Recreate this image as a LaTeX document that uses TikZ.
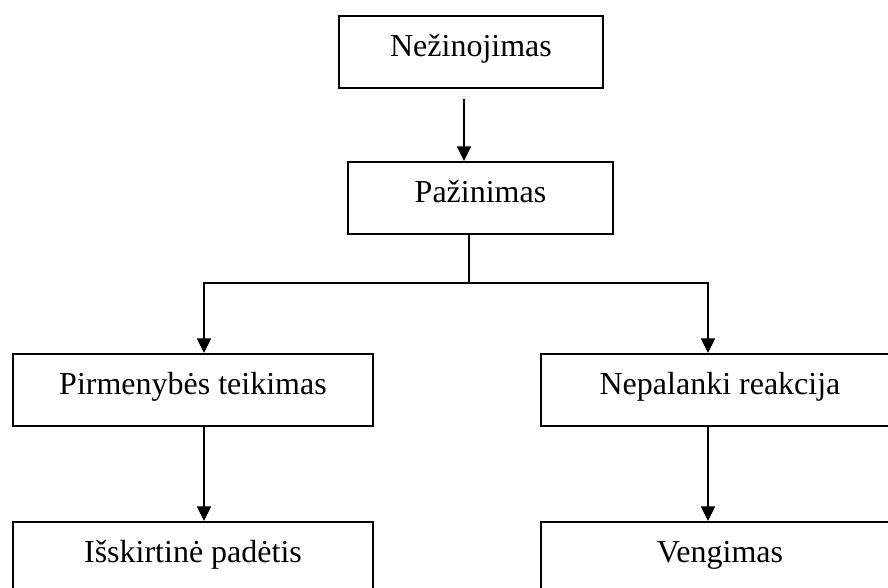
\documentclass[tikz,border=0pt]{standalone}
\usepackage{fontspec}
\setmainfont{Liberation Serif}
\usetikzlibrary{arrows.meta,calc,positioning}
\tikzset{
  box/.style={draw, line width=1.5pt, inner sep=0pt, anchor=north west,
    text height=30pt, text depth=24pt, font=\fontsize{24}{28}\selectfont},
  arr/.style={line width=1.3pt, -{Triangle[width=10.5pt,length=11pt]}},
  link/.style={line width=1.3pt}
}
\begin{document}
\begin{tikzpicture}[x=0.75pt,y=-0.75pt]
\path[use as bounding box, clip] (0,0) rectangle (888,587);

% Draw boxes.
\node (nez) at (338,15) [box,minimum width=198pt]{Nežinojimas};
\node (paz) at (347,161) [box,minimum width=198.75pt]{Pažinimas};
\node (pir) at (12,353) [box,minimum width=270pt]{Pirmenybės teikimas};
\node (nep) at (540,353) [box,minimum width=268.5pt]{Nepalanki reakcija};
\node (isk) at (12,521) [box,minimum width=270pt]{Išskirtinė padėtis};
\node (ven) at (540,521) [box,minimum width=268.5pt]{Vengimas};

% Draw arrow from top box.
\coordinate (top) at ($(nez.south)+(-7,10)$);
\draw[arr] (top) -- (top |- paz.north);

% Draw fork.
\coordinate (fork) at ($(paz.south)+(-11.5,48)$);
\coordinate (lft) at ($(pir.north)+(11,0)$);
\coordinate (rgt) at ($(nep.north)+(-12,0)$);
\draw[link] (fork |- paz.south) -- (fork);
\draw[arr] (fork) -| (lft);
\draw[arr] (fork) -| (rgt);

% Draw lower arrows.
\draw[arr] (lft |- pir.south) -- (lft |- isk.north);
\draw[arr] (rgt |- nep.south) -- (rgt |- ven.north);
\end{tikzpicture}
\end{document}
